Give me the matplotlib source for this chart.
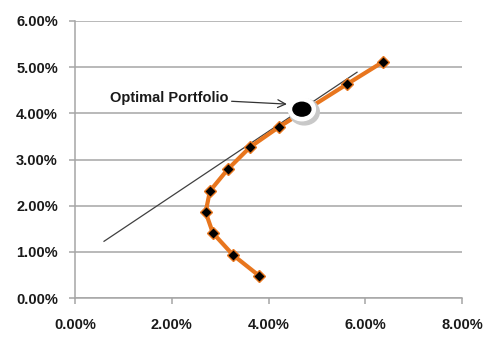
import matplotlib
matplotlib.use("Agg")
import matplotlib.pyplot as plt
from matplotlib.patches import Ellipse
from matplotlib.ticker import FuncFormatter

# efficient frontier (risk, return), in percent
risk = [3.81, 3.27, 2.85, 2.70, 2.79, 3.16, 3.62, 4.21, 5.62, 6.36]
ret = [0.48, 0.93, 1.41, 1.86, 2.32, 2.79, 3.27, 3.70, 4.63, 5.11]

# capital market line end points
cml_x = [0.60, 5.83]
cml_y = [1.23, 4.89]

opt_x, opt_y = 4.69, 4.09

x_ticks = [0, 2, 4, 6, 8]
y_ticks = [0, 1, 2, 3, 4, 5, 6]

plt.rcParams['font.family'] = ['Liberation Sans', 'DejaVu Sans']

fig = plt.figure(figsize=(5, 3.38), dpi=100)
ax = fig.add_axes([0.15, 0.118, 0.774, 0.82])

ax.set_xlim(0, 8)
ax.set_ylim(0, 6)
ax.set_xticks(x_ticks)
ax.set_yticks(y_ticks)
fmt = FuncFormatter(lambda v, p: f"{v:.2f}%")
ax.xaxis.set_major_formatter(fmt)
ax.yaxis.set_major_formatter(fmt)
for lab in ax.get_xticklabels() + ax.get_yticklabels():
    lab.set_fontweight('bold')
    lab.set_fontsize(10.5)
    lab.set_color('#1a1a1a')

ax.grid(axis='y', color='#a6a6a6', lw=1.1)
ax.set_axisbelow(True)
for s in ['top', 'right']:
    ax.spines[s].set_visible(False)
for s in ['left', 'bottom']:
    ax.spines[s].set_color('#a6a6a6')
    ax.spines[s].set_linewidth(1.1)
ax.tick_params(axis='both', color='#a6a6a6', width=1.1, length=4.3)
ax.tick_params(axis='y', pad=8)
ax.tick_params(axis='x', pad=10)

ax.plot(cml_x, cml_y, color='#404040', lw=0.9, zorder=3)
ax.plot(risk, ret, color='#e8761e', lw=3, marker='D', ms=6,
        mfc='black', mec='#e8761e', mew=1, zorder=4)

# optimal portfolio marker with shadowed white halo
ax.add_patch(Ellipse((opt_x + 0.05, opt_y - 0.06), 0.62, 0.56,
                     color='#c8c8c8', zorder=5))
ax.add_patch(Ellipse((opt_x, opt_y), 0.56, 0.5, color='white', zorder=6))
ax.add_patch(Ellipse((opt_x, opt_y), 0.37, 0.30, color='black', zorder=7))

ax.annotate("Optimal Portfolio", xy=(4.38, 4.2), xytext=(3.18, 4.33),
            ha='right', va='center', fontsize=10.5, fontweight='bold',
            color='#1a1a1a',
            arrowprops=dict(arrowstyle='->', color='#333333', lw=0.9,
                            shrinkA=0, shrinkB=0, mutation_scale=14))

fig.savefig("out.png", dpi=100)
